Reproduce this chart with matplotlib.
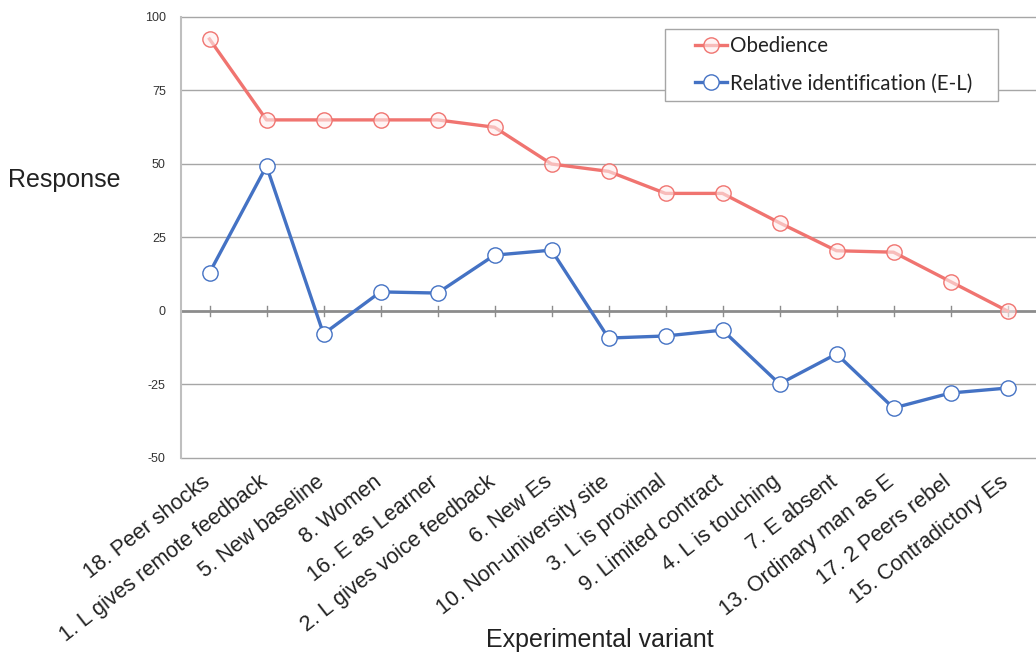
import matplotlib
matplotlib.use("Agg")
import matplotlib.pyplot as plt
import matplotlib.transforms as mtransforms
from matplotlib.patches import Rectangle

categories = ["18. Peer shocks", "1. L gives remote feedback", "5. New baseline", "8. Women",
              "16. E as Learner", "2. L gives voice feedback", "6. New Es",
              "10. Non-university site", "3. L is proximal", "9. Limited contract",
              "4. L is touching", "7. E absent", "13. Ordinary man as E",
              "17. 2 Peers rebel", "15. Contradictory Es"]
obedience = [92.5, 65, 65, 65, 65, 62.5, 50, 47.5, 40, 40, 30, 20.5, 20, 10, 0]
rel_ident = [13.0, 49.3, -7.8, 6.5, 6.1, 19.0, 20.7, -9.2, -8.5, -6.5, -24.8, -14.6, -33.0, -27.9, -26.2]
yticks = [-50, -25, 0, 25, 50, 75, 100]

red = "#F07470"
blue = "#4472C4"

fig = plt.figure(figsize=(10.36, 6.54), dpi=100)
ax = fig.add_axes([181/1036, 1-458/654, 1-181/1036, (458-17)/654])

x = list(range(len(categories)))
ax.set_xlim(-0.5, len(categories)-0.5)
ax.set_ylim(-50, 100)

for yv in yticks:
    if yv == 0:
        ax.axhline(yv, color="#8C8C8C", lw=2.0, zorder=1, clip_on=False)
    else:
        ax.axhline(yv, color="#A6A6A6", lw=1.0, zorder=1, clip_on=False)

# crossing tick marks on the zero line
for xi in x:
    ax.plot([xi, xi], [-1.6, 1.6], color="#8C8C8C", lw=1.0, zorder=1)

ax.plot(x, obedience, color=red, lw=2.4, marker="o", markersize=11,
        markerfacecolor=(1, 0.93, 0.93, 0.6), markeredgecolor=red, markeredgewidth=1.0,
        zorder=3, label="Obedience")
ax.plot(x, rel_ident, color=blue, lw=2.4, marker="o", markersize=11,
        markerfacecolor="white", markeredgecolor=blue, markeredgewidth=1.0,
        zorder=3, label="Relative identification (E-L)")

for s in ["top", "right", "bottom"]:
    ax.spines[s].set_visible(False)
ax.spines["left"].set_color("#BFBFBF")
ax.spines["left"].set_linewidth(1.5)

ax.set_yticks(yticks)
ax.set_yticklabels([str(v) for v in yticks], fontsize=9, color="#333333", family="Liberation Sans")
ax.tick_params(axis="y", length=0, pad=11)
ax.set_xticks(x)
ax.set_xticklabels(categories, rotation=38, ha="right", rotation_mode="anchor",
                   fontsize=15.5, color="#222222", family="Liberation Sans")
ax.tick_params(axis="x", length=0, pad=6)
offset = mtransforms.ScaledTranslation(-8/100, -5/100, fig.dpi_scale_trans)
for lab in ax.get_xticklabels():
    lab.set_transform(lab.get_transform() + offset)

fig.text(8/1036, 1-180/654, "Response", fontsize=18, family="Liberation Sans",
         color="#222222", va="center", ha="left")
fig.text(600/1036, 1-640/654, "Experimental variant", fontsize=18, family="Liberation Sans",
         color="#222222", va="center", ha="center")

frame = Rectangle((665/1036, 1-101/654), (998-665)/1036, (101-29)/654,
                  transform=fig.transFigure, facecolor="white", edgecolor="#A6A6A6",
                  lw=1.0, zorder=4, clip_on=False)
ax.add_artist(frame)

leg = ax.legend(loc="upper left", bbox_to_anchor=(695/1036, 1-36/654), bbox_transform=fig.transFigure,
                frameon=False, prop={"family": "Lato", "size": 14.8},
                handlelength=1.55, handletextpad=0.15, borderpad=0, labelspacing=0.85,
                borderaxespad=0, markerscale=1.0)
leg.set_zorder(6)
for t in leg.get_texts():
    t.set_color("#222222")

fig.savefig("out.png", dpi=100, facecolor="white")
